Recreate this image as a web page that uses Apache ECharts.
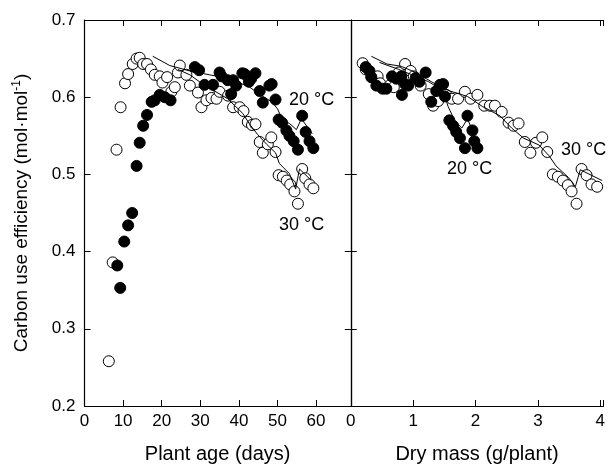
<!DOCTYPE html>
<html>
<head>
<meta charset="utf-8">
<script src="https://cdn.jsdelivr.net/npm/echarts@6/dist/echarts.min.js"></script>
<style>
  html, body { margin: 0; padding: 0; background: #fff; }
  #chart { width: 608px; height: 469px; }
</style>
</head>
<body>
<div id="chart"></div>
<script>
// tick labels
const ageTicks = [0, 10, 20, 30, 40, 50, 60];
const massTicks = [0, 1, 2, 3, 4];
const cueTicks = [0.2, 0.3, 0.4, 0.5, 0.6, 0.7];

// left panel, 30 C (open circles)
const age30 = [6.3, 7.3, 8.3, 9.35, 10.5, 11.3, 12.5, 13.5, 14.3, 15.2, 16.2, 17.2, 18.2, 19.5, 20.2, 21.4, 22.5, 23.4, 24.2, 24.7, 26.4, 27.3, 29.4, 30.3, 31.6, 32.9, 34.2, 35.0, 37.2, 38.5, 40.2, 41.2, 42.3, 43.4, 44.3, 45.4, 46.2, 47.5, 48.4, 49.5, 50.3, 51.4, 52.4, 53.3, 54.4, 55.3, 56.4, 57.2, 58.3, 59.3];
const cue30Age = [0.258, 0.386, 0.532, 0.587, 0.618, 0.630, 0.643, 0.650, 0.651, 0.643, 0.643, 0.636, 0.629, 0.627, 0.619, 0.626, 0.607, 0.613, 0.632, 0.641, 0.629, 0.615, 0.606, 0.587, 0.596, 0.599, 0.598, 0.607, 0.602, 0.587, 0.587, 0.582, 0.568, 0.564, 0.565, 0.542, 0.528, 0.539, 0.548, 0.529, 0.499, 0.497, 0.492, 0.487, 0.478, 0.462, 0.507, 0.495, 0.487, 0.482];

// left panel, 20 C (filled circles)
const age20 = [8.5, 9.25, 10.3, 11.3, 12.35, 13.5, 14.3, 15.2, 16.2, 17.4, 18.2, 19.5, 20.8, 22.3, 28.6, 29.7, 31.1, 33.3, 35.0, 35.5, 37.1, 38.5, 38.0, 39.3, 40.9, 41.5, 42.6, 43.2, 44.3, 45.4, 46.2, 47.9, 48.5, 49.5, 50.3, 51.2, 52.3, 53.1, 54.2, 55.3, 56.4, 57.3, 58.3, 59.3];
const cue20Age = [0.382, 0.353, 0.413, 0.434, 0.450, 0.511, 0.541, 0.563, 0.577, 0.594, 0.596, 0.603, 0.600, 0.596, 0.639, 0.635, 0.616, 0.616, 0.632, 0.627, 0.622, 0.622, 0.604, 0.615, 0.631, 0.630, 0.620, 0.624, 0.631, 0.608, 0.593, 0.615, 0.617, 0.597, 0.571, 0.567, 0.557, 0.550, 0.543, 0.532, 0.576, 0.555, 0.543, 0.534];

// left panel model lines
const ageFit20 = [17.7, 22.1, 27.3, 32.4, 37.6, 42.8, 45.9, 48.5, 50.0, 51.3, 53.1, 54.9, 56.2, 59.0];
const cueFit20Age = [0.653, 0.641, 0.634, 0.629, 0.624, 0.613, 0.602, 0.594, 0.585, 0.571, 0.566, 0.558, 0.572, 0.553];
const ageFit30 = [24.2, 27.3, 29.8, 33.7, 37.1, 41.0, 42.8, 44.8, 47.2, 49.5, 50.5, 53.1, 54.7, 55.7, 58.8];
const cueFit30Age = [0.636, 0.629, 0.620, 0.608, 0.598, 0.579, 0.565, 0.552, 0.539, 0.528, 0.514, 0.501, 0.481, 0.507, 0.492];

// right panel, 30 C (open circles)
const mass30 = [0.19, 0.24, 0.33, 0.43, 0.47, 0.62, 0.69, 0.77, 0.87, 0.96, 1.01, 1.12, 1.25, 1.32, 1.40, 1.53, 1.62, 1.72, 1.83, 1.92, 2.03, 2.14, 2.23, 2.31, 2.42, 2.53, 2.61, 2.69, 2.79, 2.88, 2.97, 3.07, 3.15, 3.24, 3.32, 3.40, 3.48, 3.54, 3.62, 3.70, 3.78, 3.86, 3.95];
const cue30Mass = [0.644, 0.636, 0.626, 0.627, 0.618, 0.615, 0.613, 0.632, 0.643, 0.634, 0.627, 0.615, 0.604, 0.589, 0.595, 0.603, 0.598, 0.598, 0.607, 0.598, 0.603, 0.589, 0.589, 0.589, 0.581, 0.567, 0.563, 0.566, 0.542, 0.528, 0.541, 0.548, 0.529, 0.500, 0.497, 0.492, 0.486, 0.478, 0.462, 0.507, 0.499, 0.487, 0.484];

// right panel, 20 C (filled circles)
const mass20 = [0.24, 0.30, 0.33, 0.41, 0.51, 0.57, 0.66, 0.73, 0.81, 0.82, 0.87, 0.92, 1.04, 1.10, 1.20, 1.29, 1.37, 1.43, 1.48, 1.51, 1.58, 1.64, 1.69, 1.75, 1.83, 1.87, 1.95, 1.98, 2.03];
const cue20Mass = [0.639, 0.634, 0.626, 0.615, 0.611, 0.611, 0.627, 0.624, 0.627, 0.603, 0.617, 0.615, 0.625, 0.620, 0.632, 0.594, 0.608, 0.616, 0.617, 0.601, 0.570, 0.563, 0.555, 0.547, 0.534, 0.576, 0.557, 0.543, 0.534];

// right panel model lines
const massFit30 = [0.33, 0.58, 0.81, 1.04, 1.21, 1.40, 1.59, 1.87, 2.11, 2.39, 2.58, 2.77, 3.02, 3.18, 3.29, 3.49, 3.60, 3.68, 4.03];
const cueFit30Mass = [0.653, 0.643, 0.640, 0.632, 0.624, 0.615, 0.608, 0.601, 0.588, 0.576, 0.560, 0.547, 0.538, 0.524, 0.511, 0.496, 0.484, 0.506, 0.492];
const massFit20 = [0.46, 0.77, 1.04, 1.25, 1.48, 1.56, 1.67, 1.78, 1.87, 1.95, 2.02];
const cueFit20Mass = [0.645, 0.636, 0.627, 0.620, 0.608, 0.588, 0.569, 0.560, 0.572, 0.557, 0.552];

const FONT = '"Liberation Sans", Arial, sans-serif';
const zip = (xs, ys) => xs.map((x, i) => [x, ys[i]]);

const tickStyle = { show: true, inside: true, length: 6, lineStyle: { color: '#000', width: 1 } };
const lineAxis = { show: true, onZero: false, lineStyle: { color: '#000', width: 1.2 } };
const labelStyle = { color: '#000', fontSize: 17, fontFamily: FONT };

function xAxisFor(grid, ticks, max, pos, name) {
  const step = ticks[1] - ticks[0];
  return {
    type: 'value', gridIndex: grid, position: pos,
    min: ticks[0], max: max, interval: step,
    axisLine: lineAxis, axisTick: tickStyle, splitLine: { show: false },
    axisLabel: pos === 'bottom' ? Object.assign({
      margin: 7,
      formatter: v => ticks.indexOf(Math.round(v * 100) / 100) >= 0 ? String(v) : ''
    }, labelStyle) : { show: false },
    name: name || '', nameLocation: 'middle', nameGap: 38,
    nameTextStyle: { color: '#000', fontSize: 20, fontFamily: FONT }
  };
}

function yAxisFor(grid, pos, withLabels) {
  return {
    type: 'value', gridIndex: grid, position: pos,
    min: cueTicks[0], max: cueTicks[cueTicks.length - 1], interval: 0.1,
    axisLine: lineAxis, axisTick: tickStyle, splitLine: { show: false },
    axisLabel: withLabels ? Object.assign({ margin: 9, formatter: v => v.toFixed(1) }, labelStyle) : { show: false },
    name: withLabels ? '{a|Carbon use efficiency (mol\u00b7mol}{s|-1}{a|)}' : '',
    nameLocation: 'middle', nameGap: 52, nameRotate: 90,
    nameTextStyle: {
      rich: {
        a: { color: '#000', fontSize: 19, fontFamily: FONT },
        s: { color: '#000', fontSize: 12, fontFamily: FONT, padding: [0, 0, 10, 0] }
      }
    }
  };
}

function dots(xi, data, filled) {
  return {
    type: 'scatter', xAxisIndex: xi, yAxisIndex: xi === 0 ? 0 : 2,
    data: data, symbol: 'circle', symbolSize: 11,
    itemStyle: { color: filled ? '#000' : '#fff', borderColor: '#000', borderWidth: 1, opacity: 1 },
    z: filled ? 3 : 2
  };
}

function fit(xi, data) {
  return {
    type: 'line', xAxisIndex: xi, yAxisIndex: xi === 0 ? 0 : 2,
    data: data, showSymbol: false, symbol: 'none',
    lineStyle: { color: '#000', width: 1 }, z: 4
  };
}

function tag(x, y, t) {
  return {
    type: 'text', left: x, top: y, z: 10,
    style: { text: t, fill: '#000', font: '18px ' + FONT }
  };
}

const chart = echarts.init(document.getElementById('chart'));
chart.setOption({
  animation: false,
  backgroundColor: '#fff',
  grid: [
    { left: 84.5, top: 20, width: 266.3, height: 392 },
    { left: 350.8, top: 20, width: 257.6, height: 392 }
  ],
  xAxis: [
    xAxisFor(0, ageTicks, 69, 'bottom', 'Plant age (days)'),
    xAxisFor(0, ageTicks, 69, 'top'),
    xAxisFor(1, massTicks, 4.05, 'bottom', 'Dry mass (g/plant)'),
    xAxisFor(1, massTicks, 4.05, 'top')
  ],
  yAxis: [
    yAxisFor(0, 'left', true),
    yAxisFor(0, 'right', false),
    yAxisFor(1, 'left', false)
  ],
  series: [
    dots(0, zip(age30, cue30Age), false),
    dots(0, zip(age20, cue20Age), true),
    fit(0, zip(ageFit20, cueFit20Age)),
    fit(0, zip(ageFit30, cueFit30Age)),
    dots(2, zip(mass30, cue30Mass), false),
    dots(2, zip(mass20, cue20Mass), true),
    fit(2, zip(massFit30, cueFit30Mass)),
    fit(2, zip(massFit20, cueFit20Mass))
  ],
  graphic: [
    tag(289, 91, '20 \u00b0C'),
    tag(279, 216, '30 \u00b0C'),
    tag(447, 160, '20 \u00b0C'),
    tag(561, 141, '30 \u00b0C')
  ]
});
</script>
</body>
</html>
